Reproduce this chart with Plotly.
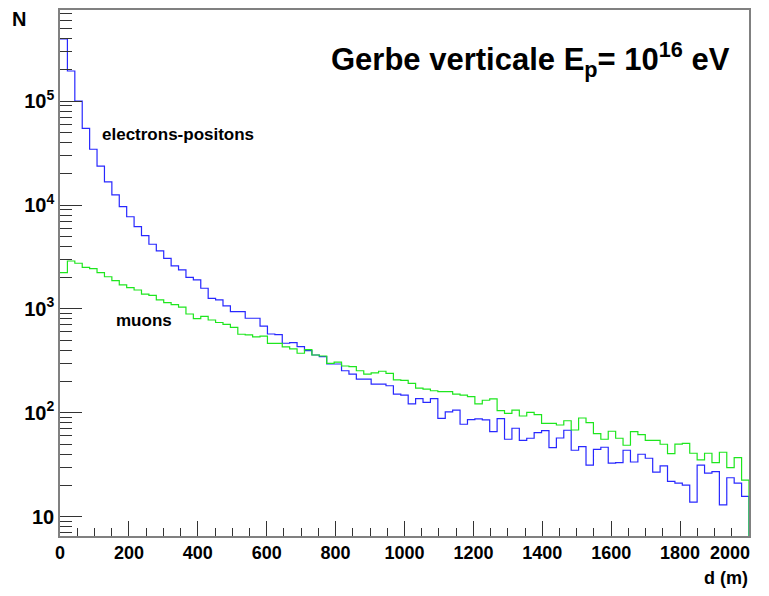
import numpy as np
import plotly.graph_objects as go

# Histogram binning (distance to shower axis, m)
d_min, d_max = 0, 2000
n_bins = 93

# Counts per bin, electrons-positons
electrons = [396000, 195000, 100000, 54700, 34400, 23700, 16700, 12500, 9640, 7710,
             6180, 5070, 4190, 3610, 3070, 2590, 2370, 2010, 1900, 1580,
             1260, 1220, 1070, 940, 940, 813, 813, 684, 573, 565,
             467, 473, 433, 396, 360, 347, 295, 295, 254, 236,
             211, 211, 189, 189, 182, 151, 148, 122, 137, 126,
             137, 88.5, 102, 106, 77.6, 85.9, 87.5, 85.3, 65.8, 87.7,
             55.6, 71.0, 54.3, 56.9, 64.3, 67.3, 46.1, 57.2, 67.9, 43.6,
             47.2, 31.4, 44.4, 46.6, 32.7, 33.2, 43.6, 33.6, 39.9, 36.5,
             26.9, 30.8, 21.9, 21.0, 20.1, 13.8, 31.4, 26.3, 27.1, 13.0,
             23.7, 21.0, 15.7]

# Counts per bin, muons
muons = [2230, 2890, 2750, 2510, 2440, 2230, 2040, 1870, 1700, 1600,
         1520, 1390, 1350, 1220, 1150, 1100, 1040, 893, 805, 849,
         782, 740, 708, 665, 570, 561, 537, 548, 465, 465,
         430, 413, 374, 405, 360, 352, 299, 307, 282, 278,
         254, 236, 242, 251, 240, 207, 205, 192, 173, 169,
         163, 160, 160, 151, 148, 143, 122, 132, 136, 105,
         98.9, 106, 93.1, 101, 95.9, 79.2, 79.2, 76.3, 83.8, 68.3,
         89.1, 80.3, 62.9, 55.6, 66.4, 56.9, 48.7, 65.8, 61.5, 54.3,
         54.3, 49.8, 40.4, 49.9, 50.8, 40.8, 35.2, 40.8, 33.1, 41.7,
         29.6, 37.0, 22.5]

x_tick_vals = [0, 200, 400, 600, 800, 1000, 1200, 1400, 1600, 1800, 2000]
x_tick_text = ['0', '200', '400', '600', '800', '1000', '1200', '1400', '1600', '1800', '']
last_x_label = '2000'
y_tick_vals = [10, 100, 1000, 10000, 100000]
y_tick_text = ['10', '10<sup>2</sup>', '10<sup>3</sup>', '10<sup>4</sup>', '10<sup>5</sup>']

edges = np.linspace(d_min, d_max, n_bins + 1)
y_log_range = [0.814, 5.877]
floor = 10 ** (y_log_range[0] - 1)


def step(vals):
    # step outline: each bin drawn flat, closing down to the frame bottom at the right edge
    y = np.concatenate([np.asarray(vals, dtype=float), [floor]])
    return edges, y


FONT = "Liberation Sans, Arial, Helvetica, sans-serif"

fig = go.Figure()
xe, ye = step(electrons)
fig.add_trace(go.Scatter(x=xe, y=ye, mode='lines', line=dict(color='rgb(40,40,255)', width=1.2, shape='hv'),
                         name='electrons-positons', showlegend=False))
xm, ym = step(muons)
fig.add_trace(go.Scatter(x=xm, y=ym, mode='lines', line=dict(color='rgb(30,230,30)', width=1.2, shape='hv'),
                         name='muons', showlegend=False))

# the page body adds an 8px offset, so the figure is 8px smaller and margins are shifted
fig.update_layout(
    width=761, height=588,
    margin=dict(l=52, r=20, t=2, b=60),
    paper_bgcolor='white', plot_bgcolor='white',
    font=dict(family=FONT, size=18, color='black', weight='bold'),
    xaxis=dict(range=[d_min, d_max], showgrid=False, zeroline=False, automargin=False,
               showline=True, mirror=True, linecolor='#808080', linewidth=1.5,
               ticks='inside', ticklen=15, tickwidth=1, tickcolor='#333333',
               tickvals=x_tick_vals, ticktext=x_tick_text, ticklabeloverflow='allow',
               tickfont=dict(family=FONT, size=18, weight='bold'),
               minor=dict(ticks='inside', ticklen=8, tickwidth=1, tickcolor='#333333', dtick=50)),
    yaxis=dict(type='log', range=y_log_range, showgrid=False, zeroline=False, automargin=False,
               showline=True, mirror=True, linecolor='#808080', linewidth=1.5,
               ticks='inside', ticklen=22, tickwidth=1, tickcolor='#333333',
               tickvals=y_tick_vals, ticktext=y_tick_text, ticklabeloverflow='allow',
               tickfont=dict(family=FONT, size=20, weight='bold'),
               minor=dict(ticks='inside', ticklen=12, tickwidth=1, tickcolor='#333333', dtick='D1')),
)

annos = [
    dict(text='Gerbe verticale E<sub>p</sub>= 10<sup>16</sup> eV', x=0.975, y=0.905,
         xref='paper', yref='paper', xanchor='right', yanchor='middle', font=dict(size=31)),
    dict(text='electrons-positons', x=342, y=4.674, xref='x', yref='y',
         xanchor='center', yanchor='middle', font=dict(size=17)),
    dict(text='muons', x=244, y=2.893, xref='x', yref='y',
         xanchor='center', yanchor='middle', font=dict(size=17)),
    dict(text='N', x=-0.0595, y=0.983, xref='paper', yref='paper',
         xanchor='center', yanchor='middle', font=dict(size=20)),
    dict(text='d (m)', x=1.0015, y=-0.080, xref='paper', yref='paper',
         xanchor='right', yanchor='middle', font=dict(size=18)),
    dict(text=last_x_label, x=1.004, y=-0.033, xref='paper', yref='paper',
         xanchor='right', yanchor='middle', font=dict(size=18)),
]
for a in annos:
    a['showarrow'] = False
    a['font'] = dict(family=FONT, color='black', weight='bold', **a['font'])
    fig.add_annotation(**a)

fig.write_html("out.html")
